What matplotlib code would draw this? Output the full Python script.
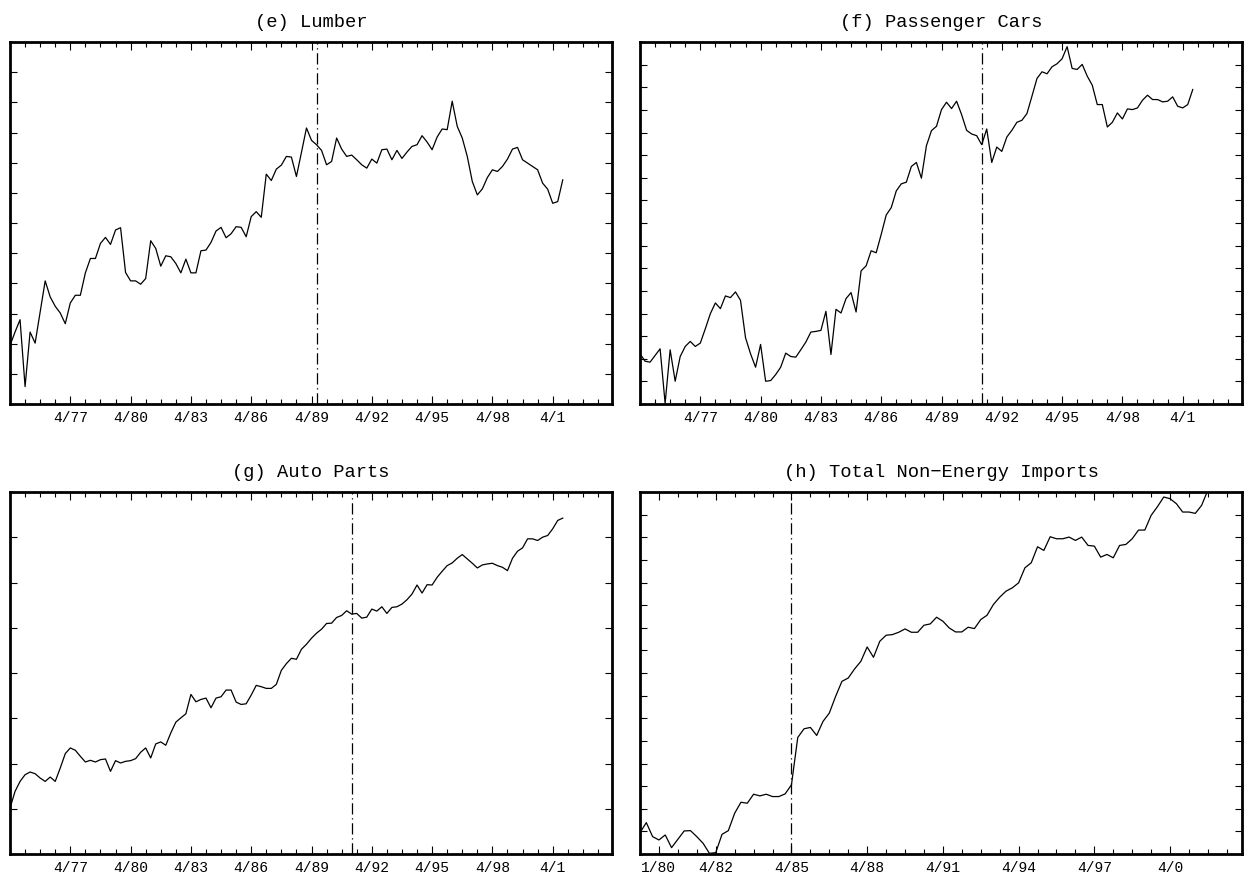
import numpy as np
import matplotlib
matplotlib.use("Agg")
import matplotlib.pyplot as plt
from matplotlib.ticker import FixedLocator, NullFormatter

# ---------------- data (quarterly, arbitrary index units) ----------------
start_efg = 1974.25   # April 1974
start_h = 1979.25     # April 1979

lumber = [175, 215, 252, 52, 215, 182, 275, 368, 320, 292, 272, 240, 302, 325, 325,
          392, 435, 435, 480, 498, 477, 520, 527, 393, 368, 368, 358, 375, 488, 465,
          412, 443, 440, 420, 392, 433, 392, 392, 458, 460, 483, 517, 528, 497, 509,
          530, 528, 500, 560, 575, 558, 687, 668, 702, 714, 740, 738, 680, 752, 825,
          788, 775, 758, 715, 725, 795, 762, 740, 744, 730, 715, 705, 732, 720, 760,
          762, 730, 758, 734, 753, 770, 775, 802, 783, 760, 798, 822, 820, 905, 830,
          795, 740, 665, 625, 643, 677, 700, 695, 710, 732, 762, 767, 730, 720, 710,
          700, 660, 642, 600, 605, 670]

cars = [150, 128, 125, 145, 165, 2, 162, 68, 142, 172, 187, 172, 182, 225, 270,
        302, 285, 323, 318, 335, 310, 198, 150, 110, 178, 68, 70, 88, 110, 152,
        142, 140, 162, 185, 215, 217, 220, 277, 148, 283, 272, 315, 333, 275, 398,
        413, 458, 452, 507, 565, 587, 637, 658, 663, 710, 722, 675, 772, 817, 830,
        880, 902, 883, 905, 865, 818, 807, 802, 775, 822, 722, 768, 755, 798, 818,
        842, 848, 868, 920, 973, 993, 987, 1008, 1017, 1032, 1068, 1003, 1000, 1015, 980,
        953, 895, 895, 828, 842, 870, 852, 882, 880, 885, 908, 923, 910, 910, 903,
        905, 918, 890, 885, 895, 940]

auto_parts = [137, 187, 217, 237, 245, 240, 227, 217, 230, 217, 257, 300, 317, 310, 292,
              275, 280, 275, 282, 284, 247, 279, 272, 277, 279, 285, 304, 317, 287, 329,
              335, 325, 362, 394, 407, 419, 477, 455, 462, 466, 437, 466, 470, 490, 490,
              454, 447, 449, 475, 504, 500, 495, 495, 507, 549, 569, 585, 582, 612, 627,
              645, 660, 672, 689, 690, 707, 713, 727, 717, 719, 705, 708, 732, 726, 739,
              719, 737, 739, 747, 760, 777, 804, 780, 805, 804, 827, 845, 862, 870, 884,
              895, 882, 869, 855, 864, 867, 869, 862, 857, 847, 884, 905, 915, 942, 942,
              937, 947, 952, 972, 997, 1004]

non_energy = [64, 94, 52, 42, 57, 19, 44, 69, 70, 52, 32, 2, 4, 59, 70,
              122, 155, 152, 179, 174, 179, 172, 172, 180, 207, 349, 375, 379, 355, 397,
              422, 472, 517, 527, 554, 577, 620, 589, 637, 655, 657, 664, 674, 664, 664,
              685, 689, 709, 697, 677, 665, 665, 679, 675, 702, 715, 747, 769, 787, 797,
              812, 857, 872, 920, 909, 950, 944, 944, 949, 939, 949, 924, 922, 889, 897,
              887, 924, 927, 944, 970, 970, 1014, 1040, 1069, 1064, 1049, 1024, 1024, 1020, 1044,
              1090]

titles = ["(e) Lumber", "(f) Passenger Cars", "(g) Auto Parts",
          "(h) Total Non\u2212Energy Imports"]
break_dates = [1989.5, 1991.25, 1991.25, 1985.25]

labels_efg = ["4/77", "4/80", "4/83", "4/86", "4/89", "4/92", "4/95", "4/98", "4/1"]
major_efg = [1977.25, 1980.25, 1983.25, 1986.25, 1989.25, 1992.25, 1995.25, 1998.25, 2001.25]
labels_h = ["1/80", "4/82", "4/85", "4/88", "4/91", "4/94", "4/97", "4/0"]
major_h = [1980.0, 1982.25, 1985.25, 1988.25, 1991.25, 1994.25, 1997.25, 2000.25]

# ---------------- figure ----------------
W, H = 1247, 886
fig = plt.figure(figsize=(W / 100, H / 100), dpi=100)
mono = ["Liberation Mono", "DejaVu Sans Mono"]


def px_axes(l, t, r, b):
    return fig.add_axes([l / W, (H - b) / H, (r - l) / W, (b - t) / H])


boxes = [(10, 42, 612, 404), (640, 42, 1242, 404),
         (10, 492, 612, 854), (640, 492, 1242, 854)]
series = [lumber, cars, auto_parts, non_energy]
starts = [start_efg, start_efg, start_efg, start_h]
xlims = [(1974.25, 2004.2), (1974.25, 2004.2), (1974.25, 2004.2), (1979.25, 2003.1)]
ylims = [(0, 1082), (0, 1082), (0, 1082), (0, 1084)]
ydiv = [12, 16, 8, 16]
majors = [major_efg, major_efg, major_efg, major_h]
labs = [labels_efg, labels_efg, labels_efg, labels_h]

for i in range(4):
    ax = px_axes(*boxes[i])
    y = np.array(series[i], dtype=float)
    x = starts[i] + 0.25 * np.arange(len(y))
    ax.plot(x, y, color="black", lw=0.9)
    ax.axvline(break_dates[i], color="black", lw=0.9, linestyle=(0, (9, 3, 1, 3)))
    ax.set_xlim(*xlims[i])
    ax.set_ylim(*ylims[i])

    ax.xaxis.set_major_locator(FixedLocator(majors[i]))
    ax.set_xticklabels(labs[i], fontfamily=mono, fontsize=10.5)
    minors = np.arange(xlims[i][0], xlims[i][1], 0.75) if i < 3 else \
        np.arange(1980.0 - 0.75, xlims[i][1], 0.75)
    ax.xaxis.set_minor_locator(FixedLocator(minors))
    ax.xaxis.set_minor_formatter(NullFormatter())
    ax.set_yticks(np.linspace(ylims[i][0], ylims[i][1], ydiv[i] + 1))
    ax.set_yticklabels([])
    ax.tick_params(axis="x", which="major", direction="in", length=6, width=0.8,
                   top=True, bottom=True, pad=5)
    ax.tick_params(axis="x", which="minor", direction="in", length=3.5, width=0.8,
                   top=True, bottom=True)
    ax.tick_params(axis="y", which="major", direction="in", length=5, width=0.8,
                   left=True, right=True)
    for s in ax.spines.values():
        s.set_linewidth(2.0)
    ax.set_title(titles[i], fontfamily=mono, fontsize=13.5, pad=11)

fig.savefig("out.png", dpi=100)
